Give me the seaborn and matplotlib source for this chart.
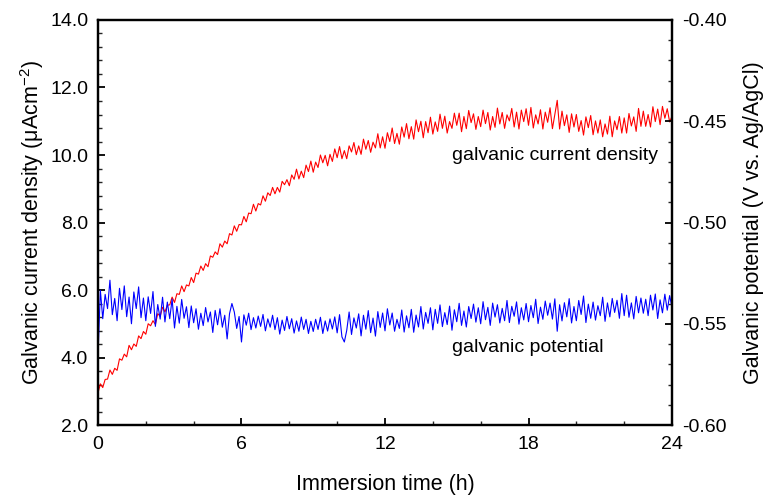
#! /usr/bin/env python
"""
Galvanic current density and galvanic potential versus immersion time
"""

import numpy as np
import pandas as pd
import seaborn as sns
import matplotlib.pyplot as plt
from matplotlib.ticker import MultipleLocator, FormatStrFormatter

# readings every 0.1 h, 0 - 24 h (one row of ten per hour)
time_h = np.linspace(0, 24, 241)

current_density = [
    2.95, 3.22, 3.11, 3.35, 3.36, 3.63, 3.50, 3.68, 3.62, 3.96,
    3.92, 4.10, 4.02, 4.36, 4.23, 4.40, 4.33, 4.64, 4.56, 4.77,
    4.69, 5.00, 4.94, 5.09, 4.98, 5.30, 5.22, 5.49, 5.35, 5.55,
    5.56, 5.79, 5.63, 5.89, 5.87, 6.12, 5.95, 6.15, 6.12, 6.37,
    6.22, 6.50, 6.47, 6.71, 6.58, 6.78, 6.69, 7.01, 6.97, 7.13,
    7.05, 7.37, 7.27, 7.45, 7.37, 7.67, 7.63, 7.90, 7.74, 7.94,
    7.93, 8.18, 8.02, 8.28, 8.26, 8.54, 8.34, 8.56, 8.52, 8.79,
    8.63, 8.88, 8.80, 9.04, 8.85, 9.04, 8.90, 9.22, 9.12, 9.27,
    9.09, 9.41, 9.28, 9.58, 9.29, 9.52, 9.33, 9.70, 9.51, 9.82,
    9.49, 9.79, 9.63, 10.00, 9.77, 9.99, 9.68, 10.02, 9.81, 10.18,
    9.92, 10.25, 9.89, 10.13, 9.89, 10.27, 10.09, 10.37, 10.01, 10.27,
    10.02, 10.47, 10.17, 10.43, 10.08, 10.38, 10.21, 10.63, 10.21, 10.54,
    10.20, 10.66, 10.40, 10.80, 10.34, 10.64, 10.32, 10.83, 10.53, 10.93,
    10.48, 10.84, 10.47, 11.04, 10.69, 11.00, 10.51, 10.99, 10.66, 11.12,
    10.62, 10.98, 10.70, 11.21, 10.79, 11.15, 10.65, 10.99, 10.79, 11.24,
    10.88, 11.24, 10.69, 11.14, 10.78, 11.32, 10.96, 11.22, 10.76, 11.14,
    10.84, 11.33, 10.93, 11.26, 10.74, 11.14, 10.82, 11.39, 10.92, 11.26,
    10.79, 11.19, 11.01, 11.38, 10.83, 11.27, 10.77, 11.33, 10.99, 11.37,
    10.88, 11.41, 10.80, 11.19, 10.92, 11.34, 10.77, 11.27, 10.97, 11.40,
    10.78, 11.20, 11.62, 10.77, 11.30, 10.87, 11.19, 10.67, 11.22, 10.83,
    11.20, 10.70, 11.02, 10.59, 11.13, 10.81, 11.17, 10.60, 11.01, 10.65,
    11.04, 10.54, 10.92, 10.62, 11.15, 10.54, 11.01, 10.75, 11.14, 10.65,
    11.10, 10.65, 11.23, 10.86, 11.13, 10.70, 11.38, 10.85, 11.30, 10.85,
    11.20, 10.83, 11.43, 10.99, 11.36, 10.90, 11.44, 11.09, 11.37, 10.98,
    11.15,
]

galvanic_potential = [
    -0.5660, -0.5335, -0.5475, -0.5355, -0.5425, -0.5285, -0.5455, -0.5375, -0.5485, -0.5325,
    -0.5430, -0.5313, -0.5465, -0.5368, -0.5500, -0.5343, -0.5425, -0.5318, -0.5470, -0.5373,
    -0.5485, -0.5367, -0.5449, -0.5341, -0.5513, -0.5405, -0.5477, -0.5369, -0.5491, -0.5393,
    -0.5475, -0.5378, -0.5521, -0.5414, -0.5497, -0.5380, -0.5473, -0.5416, -0.5519, -0.5412,
    -0.5495, -0.5426, -0.5527, -0.5448, -0.5509, -0.5420, -0.5491, -0.5442, -0.5543, -0.5434,
    -0.5505, -0.5426, -0.5517, -0.5458, -0.5575, -0.5450, -0.5400, -0.5442, -0.5523, -0.5464,
    -0.5590, -0.5456, -0.5507, -0.5448, -0.5529, -0.5470, -0.5521, -0.5462, -0.5513, -0.5454,
    -0.5535, -0.5476, -0.5517, -0.5458, -0.5529, -0.5470, -0.5551, -0.5482, -0.5533, -0.5464,
    -0.5525, -0.5475, -0.5546, -0.5486, -0.5537, -0.5467, -0.5528, -0.5478, -0.5548, -0.5488,
    -0.5538, -0.5478, -0.5528, -0.5468, -0.5548, -0.5486, -0.5536, -0.5476, -0.5526, -0.5466,
    -0.5545, -0.5455, -0.5565, -0.5590, -0.5533, -0.5442, -0.5553, -0.5471, -0.5521, -0.5451,
    -0.5560, -0.5458, -0.5527, -0.5435, -0.5544, -0.5472, -0.5561, -0.5440, -0.5518, -0.5447,
    -0.5535, -0.5426, -0.5506, -0.5447, -0.5537, -0.5478, -0.5523, -0.5432, -0.5541, -0.5461,
    -0.5520, -0.5429, -0.5542, -0.5457, -0.5516, -0.5415, -0.5526, -0.5444, -0.5498, -0.5421,
    -0.5530, -0.5429, -0.5498, -0.5407, -0.5514, -0.5445, -0.5504, -0.5413, -0.5532, -0.5431,
    -0.5490, -0.5399, -0.5508, -0.5437, -0.5516, -0.5415, -0.5474, -0.5403, -0.5492, -0.5421,
    -0.5500, -0.5391, -0.5480, -0.5419, -0.5508, -0.5398, -0.5467, -0.5406, -0.5496, -0.5424,
    -0.5485, -0.5385, -0.5494, -0.5414, -0.5463, -0.5392, -0.5502, -0.5421, -0.5481, -0.5400,
    -0.5490, -0.5410, -0.5470, -0.5379, -0.5499, -0.5418, -0.5478, -0.5388, -0.5458, -0.5398,
    -0.5477, -0.5377, -0.5537, -0.5406, -0.5486, -0.5396, -0.5466, -0.5376, -0.5496, -0.5415,
    -0.5485, -0.5385, -0.5454, -0.5363, -0.5494, -0.5403, -0.5473, -0.5393, -0.5482, -0.5411,
    -0.5460, -0.5369, -0.5488, -0.5397, -0.5466, -0.5375, -0.5444, -0.5384, -0.5473, -0.5351,
    -0.5460, -0.5359, -0.5468, -0.5397, -0.5476, -0.5365, -0.5446, -0.5373, -0.5448, -0.5379,
    -0.5460, -0.5359, -0.5432, -0.5353, -0.5474, -0.5382, -0.5446, -0.5354, -0.5433, -0.5361,
    -0.5420,
]

df = pd.DataFrame({
    "time": time_h,
    "current": current_density,
    "potential": galvanic_potential,
})

sns.set_style("ticks")
plt.rcParams["font.family"] = ["Liberation Sans", "DejaVu Sans"]
plt.rcParams["mathtext.fontset"] = "custom"
plt.rcParams["mathtext.rm"] = "Liberation Sans"
plt.rcParams["text.color"] = "black"
plt.rcParams["axes.labelcolor"] = "black"

fig = plt.figure(figsize=(7.69, 4.95), dpi=100)
ax = fig.add_axes([0.1274, 0.1414, 0.7465, 0.8182])
ax2 = ax.twinx()

sns.lineplot(data=df, x="time", y="current", color="#ff0000", linewidth=0.8,
             estimator=None, sort=False, ax=ax)
sns.lineplot(data=df, x="time", y="potential", color="#0000ff", linewidth=0.8,
             estimator=None, sort=False, ax=ax2)

ax.set_xlim(0, 24)
ax.set_ylim(2.0, 14.0)
ax2.set_ylim(-0.60, -0.40)

ax.xaxis.set_major_locator(MultipleLocator(6))
ax.xaxis.set_minor_locator(MultipleLocator(2))
ax.yaxis.set_major_locator(MultipleLocator(2))
ax.yaxis.set_minor_locator(MultipleLocator(0.4))
ax.yaxis.set_major_formatter(FormatStrFormatter("%.1f"))
ax2.yaxis.set_major_locator(MultipleLocator(0.05))
ax2.yaxis.set_minor_locator(MultipleLocator(0.01))
ax2.yaxis.set_major_formatter(FormatStrFormatter("%.2f"))

for a in (ax, ax2):
    for side in a.spines.values():
        side.set_linewidth(1.6)
        side.set_color("black")
    a.tick_params(which="major", direction="in", length=5, width=1.3,
                  labelsize=14, colors="black", pad=7)
    a.tick_params(which="minor", direction="in", length=3, width=1.0)
ax.tick_params(which="both", top=False, right=False)
ax.tick_params(axis="x", pad=8)
ax2.tick_params(which="both", left=False, right=True)

ax.set_xlabel("Immersion time (h)", fontsize=15.5, labelpad=15, color="black")
ax.set_ylabel("Galvanic current density (μAcm$^{-2}$)", fontsize=15.5, labelpad=3,
              color="black")
ax2.set_ylabel("Galvanic potential (V vs. Ag/AgCl)", fontsize=15.5, labelpad=12,
               color="black")

ax.text(14.8, 10.0, "galvanic current density", fontsize=14, ha="left", va="center",
        color="black")
ax.text(14.8, 4.3, "galvanic potential", fontsize=14, ha="left", va="center",
        color="black")

plt.savefig("out.png", dpi=100)
